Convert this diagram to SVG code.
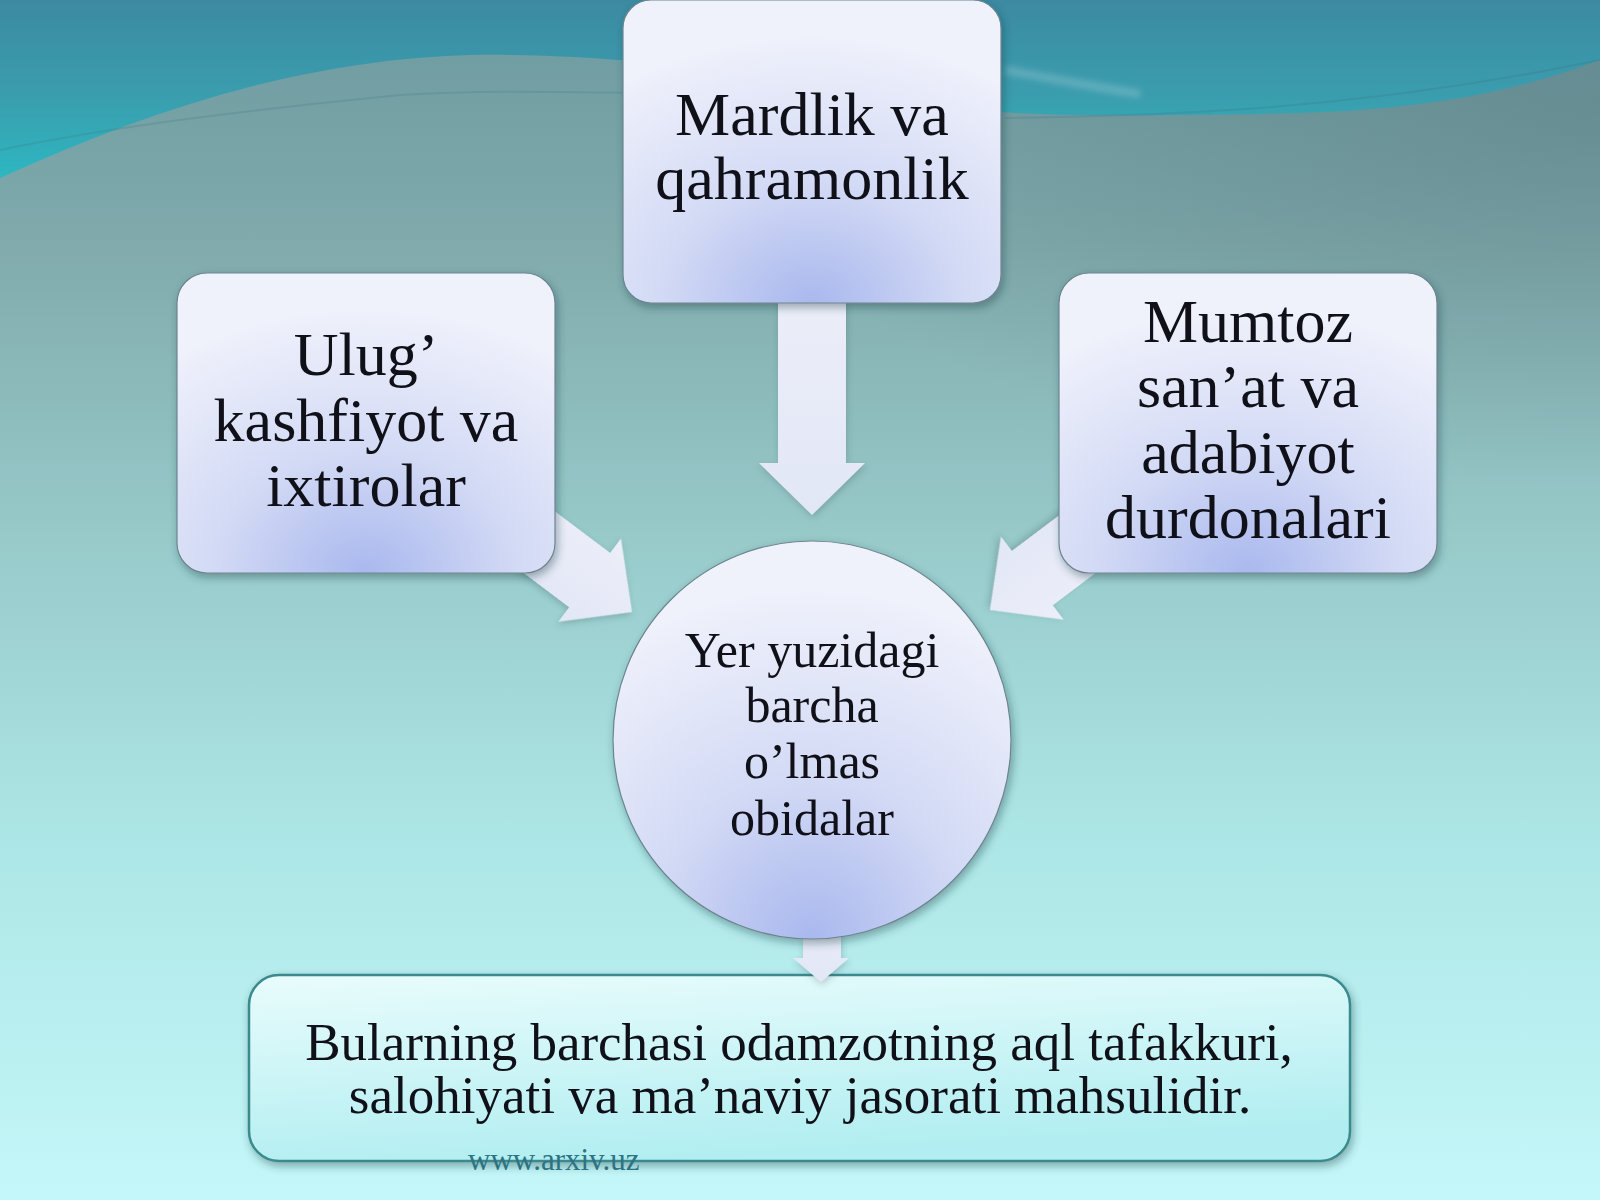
<svg xmlns="http://www.w3.org/2000/svg" width="1600" height="1200" viewBox="0 0 1600 1200">
<defs>
  <linearGradient id="bg" x1="0" y1="0" x2="0" y2="1">
    <stop offset="0" stop-color="#6c9aa0"/>
    <stop offset="0.2" stop-color="#80aaac"/>
    <stop offset="0.45" stop-color="#98caca"/>
    <stop offset="0.7" stop-color="#ade6e6"/>
    <stop offset="1" stop-color="#c4f7f9"/>
  </linearGradient>
  <radialGradient id="bgShade" cx="1" cy="0.15" r="0.55">
    <stop offset="0" stop-color="#4a6870" stop-opacity="0.35"/>
    <stop offset="1" stop-color="#4a6870" stop-opacity="0"/>
  </radialGradient>
  <linearGradient id="band" gradientUnits="userSpaceOnUse" x1="0" y1="0" x2="0" y2="180">
    <stop offset="0" stop-color="#3c8aa2"/>
    <stop offset="0.55" stop-color="#3a9eae"/>
    <stop offset="1" stop-color="#2cb8c2"/>
  </linearGradient>
  <radialGradient id="nodeGrad" cx="0.5" cy="1" r="0.9">
    <stop offset="0" stop-color="#a9b8ee"/>
    <stop offset="0.45" stop-color="#d3daf5"/>
    <stop offset="1" stop-color="#f0f2fb"/>
  </radialGradient>
  <linearGradient id="bottomGrad" x1="0" y1="0" x2="0.3" y2="1">
    <stop offset="0" stop-color="#e9fcfc"/>
    <stop offset="1" stop-color="#b2eef1"/>
  </linearGradient>
  <linearGradient id="arrowGrad" x1="0" y1="0" x2="0" y2="1">
    <stop offset="0" stop-color="#eceef9"/>
    <stop offset="1" stop-color="#e2e7f6"/>
  </linearGradient>
  <filter id="shadow" x="-10%" y="-10%" width="125%" height="130%">
    <feDropShadow dx="2" dy="4" stdDeviation="4" flood-color="#1c3440" flood-opacity="0.4"/>
  </filter>
  <filter id="softShadow" x="-20%" y="-20%" width="140%" height="140%">
    <feDropShadow dx="1" dy="3" stdDeviation="3" flood-color="#2a4450" flood-opacity="0.25"/>
  </filter>
  <filter id="blur" x="-10%" y="-100%" width="120%" height="300%">
    <feGaussianBlur stdDeviation="3"/>
  </filter>
  <path id="diagArrow" d="M0,0 L-53,-52 L-53,-34 L-150,-34 L-150,34 L-53,34 L-53,52 Z"/>
  <style>
    .node { fill: url(#nodeGrad); stroke: #6a8590; stroke-width: 1.2; filter: url(#shadow); }
    .lbl { font-family: "Liberation Serif", "Times New Roman", serif; fill: #101018; text-anchor: middle; }
    .big { font-size: 62px; }
    .mid { font-size: 50px; }
    .bot { font-size: 53px; }
    .arrow { fill: url(#arrowGrad); filter: url(#softShadow); }
    .wm { font-family: "Liberation Serif", "Times New Roman", serif; font-size: 31px; fill: #2d7381; }
  </style>
</defs>

<!-- background -->
<rect x="0" y="0" width="1600" height="1200" fill="url(#bg)"/>
<rect x="0" y="0" width="1600" height="700" fill="url(#bgShade)"/>
<path d="M0,0 H1600 V60 C1520,90 1430,112 1260,114 C1120,116 1060,116 1000,112 C860,100 700,52 470,55 C300,60 150,110 0,178 Z" fill="url(#band)"/>
<path d="M0,150 C120,125 250,110 400,95 C480,90 560,92 640,93" fill="none" stroke="#3f7a84" stroke-width="2" stroke-opacity="0.25"/>
<path d="M1005,70 C1050,78 1090,86 1140,94" fill="none" stroke="#d8e8ee" stroke-width="8" stroke-opacity="0.25" filter="url(#blur)"/>
<path d="M1005,118 C1150,116 1350,112 1600,60" fill="none" stroke="#35707a" stroke-width="2" stroke-opacity="0.2"/>

<!-- bottom box node -->
<g id="node-result">
  <rect x="249" y="975" width="1101" height="186" rx="30" fill="url(#bottomGrad)" stroke="#3b8a8e" stroke-width="2.5" filter="url(#shadow)"/>
  <text class="lbl bot" x="799" y="1060">Bularning barchasi odamzotning aql tafakkuri,</text>
  <text class="lbl bot" x="800" y="1113">salohiyati va ma’naviy jasorati mahsulidir.</text>
</g>

<!-- connectors -->
<g id="connectors">
  <polygon class="arrow" points="778,290 846,290 846,463 865,463 812,515 759,463 778,463"/>
  <use href="#diagArrow" class="arrow" transform="translate(632,612) rotate(37)"/>
  <use href="#diagArrow" class="arrow" transform="translate(990,610) rotate(143)"/>
  <polygon class="arrow" points="803,905 841,905 841,958 849,958 821,982 793,958 803,958"/>
</g>

<!-- nodes -->
<g id="node-left">
  <rect class="node" x="177" y="273" width="378" height="300" rx="30"/>
  <text class="lbl big" x="366" y="375">Ulug’</text>
  <text class="lbl big" x="366" y="441">kashfiyot va</text>
  <text class="lbl big" x="366" y="506">ixtirolar</text>
</g>

<g id="node-right">
  <rect class="node" x="1059" y="273" width="378" height="300" rx="30"/>
  <text class="lbl big" x="1248" y="342">Mumtoz</text>
  <text class="lbl big" x="1248" y="407">san’at va</text>
  <text class="lbl big" x="1248" y="473">adabiyot</text>
  <text class="lbl big" x="1248" y="538">durdonalari</text>
</g>

<g id="node-top">
  <rect class="node" x="623" y="0" width="378" height="303" rx="28"/>
  <text class="lbl big" x="812" y="135">Mardlik va</text>
  <text class="lbl big" x="812" y="199">qahramonlik</text>
</g>

<g id="node-center">
  <circle class="node" cx="812" cy="740" r="199"/>
  <text class="lbl mid" x="812" y="667">Yer yuzidagi</text>
  <text class="lbl mid" x="812" y="722">barcha</text>
  <text class="lbl mid" x="812" y="778">o’lmas</text>
  <text class="lbl mid" x="812" y="835">obidalar</text>
</g>

<text class="wm" x="468" y="1170">www.arxiv.uz</text>
</svg>
